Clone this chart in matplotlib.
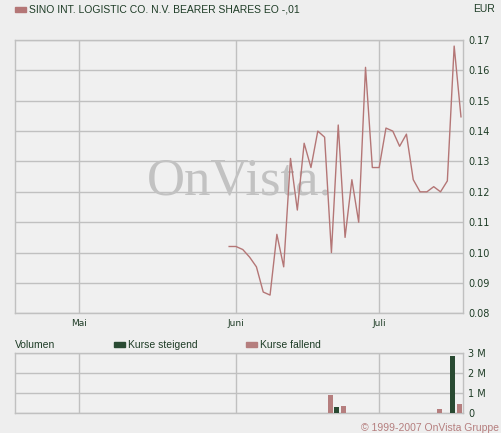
import numpy as np
import matplotlib
matplotlib.use("Agg")
from matplotlib import pyplot as plt
from matplotlib.patches import Rectangle

# Handelstage (Mo-Fr) 31.05.2007 - 18.07.2007
dates = ["2007-05-31", "2007-06-01", "2007-06-04", "2007-06-05", "2007-06-06",
         "2007-06-07", "2007-06-08", "2007-06-11", "2007-06-12", "2007-06-13",
         "2007-06-14", "2007-06-15", "2007-06-18", "2007-06-19", "2007-06-20",
         "2007-06-21", "2007-06-22", "2007-06-25", "2007-06-26", "2007-06-27",
         "2007-06-28", "2007-06-29", "2007-07-02", "2007-07-03", "2007-07-04",
         "2007-07-05", "2007-07-06", "2007-07-09", "2007-07-10", "2007-07-11",
         "2007-07-12", "2007-07-13", "2007-07-16", "2007-07-17", "2007-07-18"]
prices = [0.102, 0.102, 0.101, 0.0985, 0.0953, 0.087, 0.086, 0.106, 0.0953, 0.131,
          0.114, 0.136, 0.128, 0.140, 0.138, 0.100, 0.142, 0.105, 0.124, 0.110,
          0.161, 0.128, 0.128, 0.141, 0.140, 0.135, 0.139, 0.124, 0.120, 0.120,
          0.1217, 0.120, 0.1236, 0.168, 0.1447]
# Volumen in Mio. Stueck
volumes = [0, 0, 0, 0, 0, 0, 0, 0, 0, 0,
           0, 0, 0, 0, 0, 0.92, 0.30, 0.37, 0, 0,
           0, 0, 0, 0, 0, 0, 0, 0, 0, 0,
           0, 0.22, 0, 2.86, 0.46]

month_labels = ["Mai", "Juni", "Juli"]
month_dates = ["2007-05-01", "2007-06-01", "2007-07-02"]
price_ticks = [0.08, 0.09, 0.10, 0.11, 0.12, 0.13, 0.14, 0.15, 0.16, 0.17]
vol_ticks = [0, 1, 2, 3]
vol_labels = ["0", "1 M", "2 M", "3 M"]

title = "SINO INT. LOGISTIC CO. N.V. BEARER SHARES EO -,01"

bg = "#eeeeee"
plot_bg = "#f0f0f0"
grid_c = "#c0c0c0"
text_c = "#1e3c26"
line_c = "#b47676"
up_c = "#294a32"
down_c = "#b57e7e"

x = np.busday_count("2007-05-01", dates)
month_x = np.busday_count("2007-05-01", month_dates)
xmin, xmax = -9.36, 56.34

W, H = 501, 433
fig = plt.figure(figsize=(W / 100, H / 100), dpi=100, facecolor=bg)


def box(l, t, r, b):
    return [l / W, 1 - b / H, (r - l) / W, (b - t) / H]


def style(ax):
    ax.set_facecolor(plot_bg)
    for s in ax.spines.values():
        s.set_color(grid_c)
        s.set_linewidth(1.0)
    ax.yaxis.tick_right()
    ax.tick_params(length=0, labelsize=7, labelcolor=text_c, pad=3.5)
    ax.grid(True, color=grid_c, linewidth=1.0)
    ax.set_axisbelow(True)
    ax.set_xlim(xmin, xmax)
    ax.set_xticks(month_x)


ax = fig.add_axes(box(15.3, 40, 463.3, 313.3))
style(ax)
ax.set_ylim(0.08, 0.17)
ax.set_yticks(price_ticks)
ax.set_yticklabels(["%.2f" % v for v in price_ticks], family="DejaVu Sans")
ax.set_xticklabels([])
ax.text(0.50, 0.433, "OnVista.", transform=ax.transAxes, ha="center", va="baseline",
        family="Liberation Serif", fontsize=38, color="#c2c2c2", zorder=1)
ax.plot(x, prices, color=line_c, linewidth=1.0, zorder=3)

for lab, mx in zip(month_labels, month_x):
    fig.text((15.3 + (mx - xmin) / (xmax - xmin) * 448) / W, 1 - 323 / H, lab,
             ha="center", va="center", fontsize=6.5, color=text_c, family="DejaVu Sans")

vax = fig.add_axes(box(15.3, 353.3, 463.3, 413.3))
style(vax)
vax.set_ylim(0, 3)
vax.set_yticks(vol_ticks)
vax.set_yticklabels(vol_labels, family="DejaVu Sans")
vax.set_xticklabels([])
prev = [prices[0]] + prices[:-1]
cols = [up_c if p >= q else down_c for p, q in zip(prices, prev)]
vax.bar(x - 0.2, volumes, width=0.72, color=cols, zorder=3)

# Kopfzeile
fig.patches.append(Rectangle((15 / W, 1 - 12.3 / H), 11 / W, 5 / H,
                             transform=fig.transFigure, color=line_c))
fig.text(29 / W, 1 - 9.5 / H, title, fontsize=7.5, color=text_c,
         family="Liberation Sans", va="center")
fig.text(495 / W, 1 - 9.5 / H, "EUR", fontsize=7.5, color=text_c,
         family="Liberation Sans", va="center", ha="right")

# Volumen-Legende
fig.text(15 / W, 1 - 344.5 / H, "Volumen", fontsize=7.5, color=text_c,
         family="Liberation Sans", va="center")
fig.patches.append(Rectangle((114 / W, 1 - 347.3 / H), 11 / W, 5 / H,
                             transform=fig.transFigure, color=up_c))
fig.text(128 / W, 1 - 344.5 / H, "Kurse steigend", fontsize=7.5, color=text_c,
         family="Liberation Sans", va="center")
fig.patches.append(Rectangle((246 / W, 1 - 347.3 / H), 11 / W, 5 / H,
                             transform=fig.transFigure, color=down_c))
fig.text(260 / W, 1 - 344.5 / H, "Kurse fallend", fontsize=7.5, color=text_c,
         family="Liberation Sans", va="center")

fig.text(499 / W, 1 - 428 / H, "\u00a9 1999-2007 OnVista Gruppe", fontsize=7.5,
         color=down_c, family="Liberation Sans", va="center", ha="right")

fig.savefig("out.png", dpi=100, facecolor=bg)
